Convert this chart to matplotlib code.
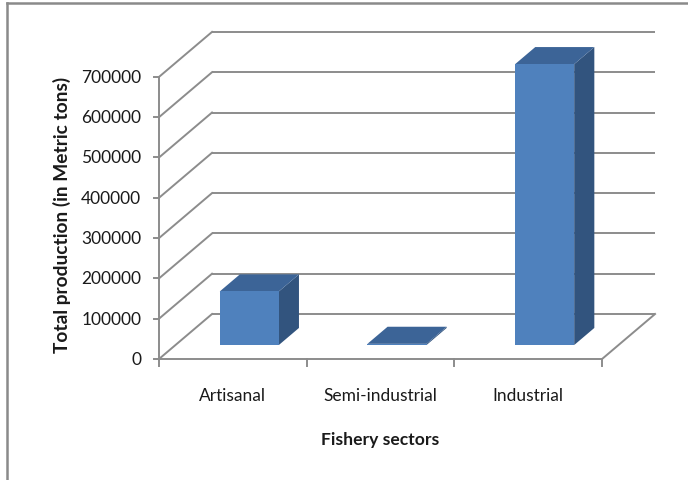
import matplotlib
matplotlib.use("Agg")
import matplotlib.pyplot as plt
from matplotlib.patches import Polygon
from matplotlib.lines import Line2D

sectors = ["Artisanal", "Semi-industrial", "Industrial"]
production = [133000, 3000, 697000]
y_ticks = [0, 100000, 200000, 300000, 400000, 500000, 600000, 700000]

# oblique "3-D" look: how far one full unit of depth shifts a point
DEPTH_X = 0.359      # in category units
DEPTH_Y = 111660     # in value units
BAR_FRONT, BAR_BACK = 0.31, 0.69
BAR_HALF = 0.2

FRONT = "#4f81bd"
TOP = "#3c6497"
SIDE = "#32547e"
GRID = "#8c8c8c"
TEXT = "#1a1a1a"

font = ["Lato", "DejaVu Sans"]


def proj(x, v, d):
    return (x + d * DEPTH_X, v + d * DEPTH_Y)


fig = plt.figure(figsize=(6.88, 4.81), dpi=100)
ax = fig.add_axes([0, 0, 1, 1])
ax.set_xlim(-1.0767, 3.582)
ax.set_ylim(-300250, 893300)
ax.axis("off")

n = len(sectors)

# back wall gridlines and the diagonals on the left wall
for v in y_ticks:
    xs, ys = zip(proj(0, v, 1), proj(n, v, 1))
    ax.plot(xs, ys, color=GRID, lw=1.4, solid_capstyle="butt", zorder=1)
    xs, ys = zip(proj(0, v, 0), proj(0, v, 1))
    ax.plot(xs, ys, color=GRID, lw=1.4, zorder=1)

# floor edges
xs, ys = zip(proj(0, 0, 0), proj(n, 0, 0), proj(n, 0, 1))
ax.plot(xs, ys, color=GRID, lw=1.4, zorder=1)

# value axis with ticks
ax.plot([0, 0], [0, y_ticks[-1]], color=GRID, lw=1.4, zorder=1)
for v in y_ticks:
    ax.plot([-0.035, 0], [v, v], color=GRID, lw=1.4, zorder=1)
    ax.text(-0.12, v, str(v), ha="right", va="center", fontsize=12.5,
            family=font, color=TEXT)

# category ticks and labels
for i in range(n + 1):
    ax.plot([i, i], [0, -17400], color=GRID, lw=1.4, zorder=1)
for i, name in enumerate(sectors):
    ax.text(i + 0.5, -90000, name, ha="center", va="center", fontsize=12.5,
            family=font, color=TEXT)

# bars: front, top and right-hand faces
for i, val in enumerate(production):
    x0, x1 = i + 0.5 - BAR_HALF, i + 0.5 + BAR_HALF
    front = [proj(x0, 0, BAR_FRONT), proj(x1, 0, BAR_FRONT),
             proj(x1, val, BAR_FRONT), proj(x0, val, BAR_FRONT)]
    top = [proj(x0, val, BAR_FRONT), proj(x1, val, BAR_FRONT),
           proj(x1, val, BAR_BACK), proj(x0, val, BAR_BACK)]
    side = [proj(x1, 0, BAR_FRONT), proj(x1, 0, BAR_BACK),
            proj(x1, val, BAR_BACK), proj(x1, val, BAR_FRONT)]
    ax.add_patch(Polygon(side, closed=True, facecolor=SIDE, edgecolor="none", zorder=3))
    ax.add_patch(Polygon(top, closed=True, facecolor=TOP, edgecolor="none", zorder=3))
    ax.add_patch(Polygon(front, closed=True, facecolor=FRONT, edgecolor="none", zorder=4))

# axis titles
ax.text(-0.657, 360000, "Total production (in Metric tons)", rotation=90,
        ha="center", va="center", fontsize=13.8, fontweight="bold",
        family=font, color=TEXT)
ax.text(1.5, -198500, "Fishery sectors", ha="center", va="center",
        fontsize=12.6, fontweight="bold", family=font, color=TEXT)

# outer chart border (top and left edges show)
fig.add_artist(Line2D([6.5 / 688, 1], [1 - 3.5 / 481, 1 - 3.5 / 481],
                      color="#8a8a8a", lw=1.8, transform=fig.transFigure))
fig.add_artist(Line2D([6.5 / 688, 6.5 / 688], [0, 1 - 3.5 / 481],
                      color="#8a8a8a", lw=1.8, transform=fig.transFigure))

fig.savefig("out.png", dpi=100)
